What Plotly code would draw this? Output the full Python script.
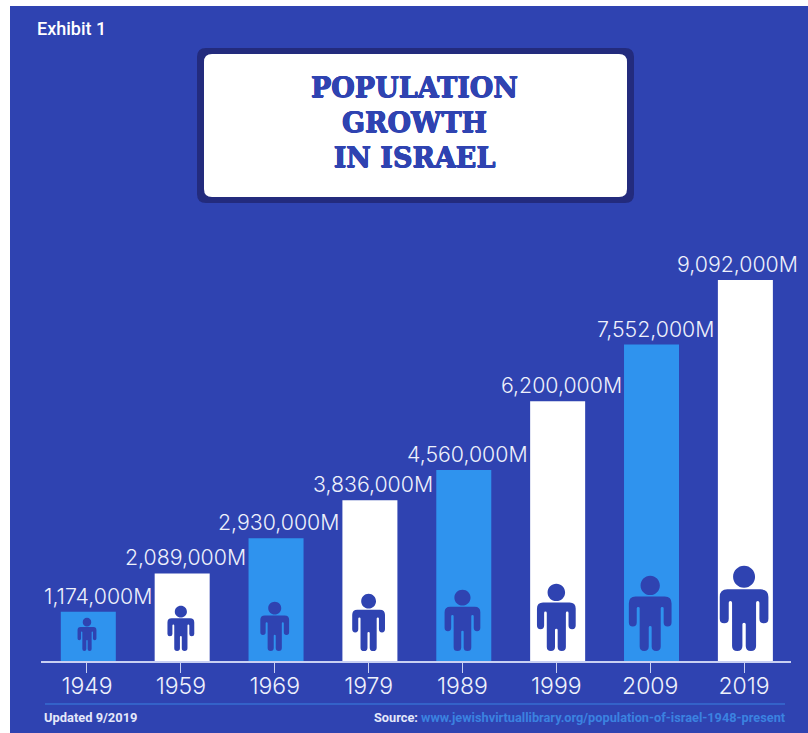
import plotly.graph_objects as go

W, H = 808, 733

years = ["1949", "1959", "1969", "1979", "1989", "1999", "2009", "2019"]
population = [1174000, 2089000, 2930000, 3836000, 4560000, 6200000, 7552000, 9092000]
value_labels = ["1,174,000M", "2,089,000M", "2,930,000M", "3,836,000M",
                "4,560,000M", "6,200,000M", "7,552,000M", "9,092,000M"]

# Person pictogram size per bar, in pixels
icon_heights = [33, 45, 49, 57, 61, 67, 75, 85]
icon_widths = [19, 27, 29, 33, 36, 39, 43, 49]
label_shifts = [11, 5, 4, 4, 5, 5, 5, -7]

Y_MAX = 10524000
PLOT_PX = 441

NAVY = "#2f43b1"
DARK = "#232b7d"
SKY = "#2f93ee"
WHITE = "#ffffff"
LINK = "#3b82e0"
PALE = "#eef1fc"


def px(x):
    return x / W


def py(y):
    return 1 - y / H


def person_path(w, h):
    """Pictogram outline centred on x=0, standing on y=0, in pixels."""
    sx, sy = w / 147, h / 255

    def p(x, y):
        return f"{x * sx:.2f},{y * sy:.2f}"

    r = 33
    k = 0.5523 * r
    cy = 223
    head = (f"M{p(-r, cy)} C{p(-r, cy + k)} {p(-k, cy + r)} {p(0, cy + r)} "
            f"C{p(k, cy + r)} {p(r, cy + k)} {p(r, cy)} "
            f"C{p(r, cy - k)} {p(k, cy - r)} {p(0, cy - r)} "
            f"C{p(-k, cy - r)} {p(-r, cy - k)} {p(-r, cy)} Z")
    right = (f"L{p(50, 185)} Q{p(73, 185)} {p(73, 162)} "
             f"L{p(73, 97)} Q{p(73, 83)} {p(59.5, 83)} Q{p(46, 83)} {p(46, 97)} "
             f"L{p(46, 145)} Q{p(46, 150)} {p(41, 150)} Q{p(36, 150)} {p(36, 145)} "
             f"L{p(36, 15)} Q{p(36, 0)} {p(20.5, 0)} Q{p(5, 0)} {p(5, 15)} "
             f"L{p(5, 80)} Q{p(5, 85)} {p(0, 85)} ")
    left = (f"Q{p(-5, 85)} {p(-5, 80)} L{p(-5, 15)} Q{p(-5, 0)} {p(-20.5, 0)} "
            f"Q{p(-36, 0)} {p(-36, 15)} L{p(-36, 145)} Q{p(-36, 150)} {p(-41, 150)} "
            f"Q{p(-46, 150)} {p(-46, 145)} L{p(-46, 97)} Q{p(-46, 83)} {p(-59.5, 83)} "
            f"Q{p(-73, 83)} {p(-73, 97)} L{p(-73, 162)} Q{p(-73, 185)} {p(-50, 185)} Z")
    return head + f" M{p(-50, 185)} " + right + left


def rounded_box(x0, y0, x1, y1, r):
    """Rounded rectangle in paper coordinates from pixel corners."""
    rx, ry = r / W, r / H
    a, b, c, d = px(x0), px(x1), py(y1), py(y0)
    return (f"M{a + rx},{c} L{b - rx},{c} Q{b},{c} {b},{c + ry} L{b},{d - ry} "
            f"Q{b},{d} {b - rx},{d} L{a + rx},{d} Q{a},{d} {a},{d - ry} "
            f"L{a},{c + ry} Q{a},{c} {a + rx},{c} Z")


bar_colors = [SKY if i % 2 == 0 else WHITE for i in range(len(years))]

# Bars sit slightly to the right of their tick marks
fig = go.Figure(go.Bar(
    x=years, y=population,
    marker=dict(color=bar_colors, line=dict(width=0)),
    width=0.586, offset=-0.279, hoverinfo="skip",
))

shapes = [
    dict(type="rect", xref="paper", yref="paper", layer="below",
         x0=px(10), x1=1, y0=0, y1=py(6), fillcolor=NAVY, line_width=0),
    dict(type="path", xref="paper", yref="paper", path=rounded_box(197, 48, 634, 203, 9),
         fillcolor=DARK, line_width=0),
    dict(type="path", xref="paper", yref="paper", path=rounded_box(204, 54, 627, 197, 8),
         fillcolor=WHITE, line_width=0),
    dict(type="line", xref="paper", yref="paper", x0=px(45), x1=px(785),
         y0=py(704), y1=py(704), line=dict(color=LINK, width=1)),
]

# Category positions are addressed by index: a year string would be read as a number.
feet_offset = 10 * Y_MAX / PLOT_PX
for i, (iw, ih) in enumerate(zip(icon_widths, icon_heights)):
    shapes.append(dict(
        type="path", xref="x", yref="y",
        xsizemode="pixel", ysizemode="pixel",
        xanchor=i, yanchor=feet_offset,
        path=person_path(iw, ih), fillcolor=NAVY, line_width=0,
    ))

thicken = ", ".join(f"{dx}px {dy}px 0 {NAVY}" for dx, dy in
                    [(0.5, 0), (-0.5, 0), (0, 0.5), (0, -0.5)])

annotations = [
    dict(xref="paper", yref="paper", x=px(35), y=py(28), xanchor="left", yanchor="middle",
         text="Exhibit 1", showarrow=False,
         font=dict(family="Roboto", size=18, weight=500, color=WHITE)),
    dict(xref="paper", yref="paper", x=px(414), y=py(122.5), xanchor="center", yanchor="middle",
         text="<b>POPULATION<br>GROWTH<br>IN ISRAEL</b>", showarrow=False,
         font=dict(family="DejaVu Serif", size=27, color=NAVY, shadow=thicken)),
    dict(xref="paper", yref="paper", x=px(42), y=py(717), xanchor="left", yanchor="middle",
         text="<b>Updated 9/2019</b>", showarrow=False,
         font=dict(family="Roboto", size=12.9, color="#e4e8fa")),
    dict(xref="paper", yref="paper", x=px(787.5), y=py(717), xanchor="right", yanchor="middle",
         text=f"<b>Source: <span style='color:{LINK}'>www.jewishvirtuallibrary.org/population-of-israel-1948-present</span></b>",
         showarrow=False, font=dict(family="Roboto", size=12.75, color="#e4e8fa")),
]

for i, (value, label, shift) in enumerate(zip(population, value_labels, label_shifts)):
    annotations.append(dict(
        x=i, y=value, xref="x", yref="y", yanchor="middle", xanchor="center",
        xshift=shift, yshift=16, text=label, showarrow=False,
        font=dict(family="Inter", size=21.3, weight=300, color=PALE),
    ))

fig.update_layout(
    width=W, height=H, autosize=False,
    margin=dict(l=0, r=0, t=0, b=0),
    paper_bgcolor=WHITE, plot_bgcolor="rgba(0,0,0,0)",
    showlegend=False, shapes=shapes, annotations=annotations,
    xaxis=dict(
        domain=[px(41), px(791)], type="category", range=[-0.49, 7.5],
        showgrid=False, zeroline=False,
        showline=True, linecolor="#c9d0f2", linewidth=2,
        ticks="outside", ticklen=10, tickwidth=1, tickcolor="#c9d0f2",
        ticklabelstandoff=-7,
        tickfont=dict(family="Inter", size=23, weight=300, color=PALE),
    ),
    yaxis=dict(
        domain=[py(661), py(220)], range=[0, Y_MAX], visible=False,
    ),
)

fig.write_html("out.html")
